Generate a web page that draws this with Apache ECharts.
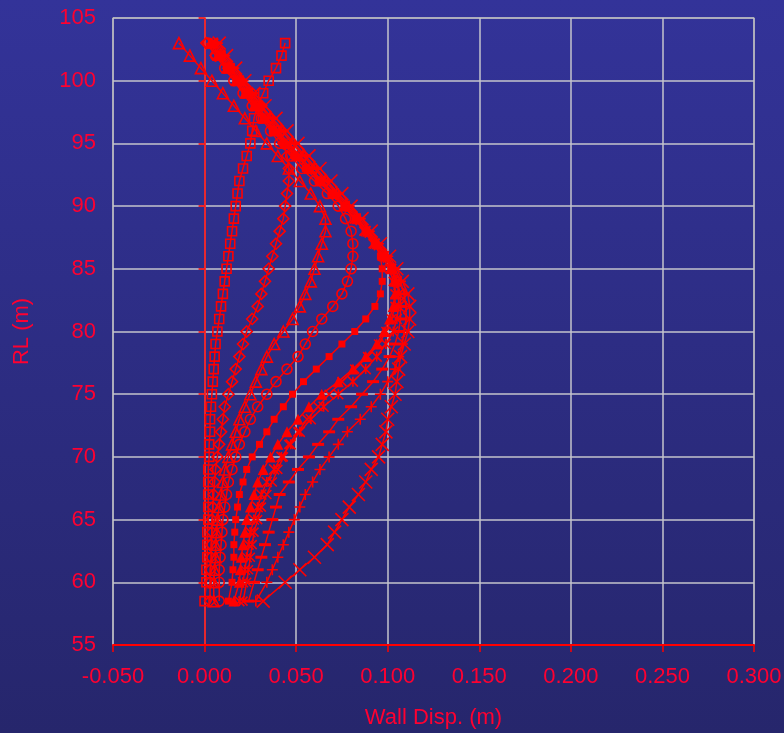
<!DOCTYPE html>
<html>
<head>
<meta charset="utf-8">
<script src="https://cdn.jsdelivr.net/npm/echarts@6/dist/echarts.min.js"></script>
<style>
  html, body { margin: 0; padding: 0; }
  #chart { width: 784px; height: 733px; }
</style>
</head>
<body>
<div id="chart"></div>
<script>
// reduced levels (m), shared by every stage
var rl = [103,102,101,100,99,98,97,96,95,94,93,92,91,90,89,88,87,86,85,84,83,82,81,80,79,78,77,76,75,74,73,72,71,70,69,68,67,66,65,64,63,62,61,60,58.5];

// wall displacement (m) per stage
var dispSquare = [0.044,0.042,0.039,0.035,0.032,0.029,0.027,0.026,0.025,0.023,0.021,0.019,0.018,0.017,0.016,0.015,0.014,0.013,0.012,0.011,0.010,0.009,0.008,0.007,0.006,0.0055,0.005,0.0045,0.004,0.0035,0.003,0.003,0.0025,0.0025,0.002,0.002,0.002,0.002,0.002,0.0015,0.0015,0.0015,0.001,0.001,0.0];
var dispDiamond = [0.001,0.006,0.013,0.020,0.026,0.031,0.036,0.040,0.043,0.045,0.046,0.046,0.045,0.044,0.043,0.041,0.039,0.037,0.035,0.033,0.031,0.029,0.026,0.023,0.021,0.019,0.017,0.015,0.013,0.011,0.010,0.009,0.008,0.007,0.006,0.0055,0.005,0.0045,0.004,0.004,0.0035,0.0035,0.003,0.003,0.003];
var dispTriangle = [-0.014,-0.008,-0.002,0.004,0.010,0.016,0.022,0.028,0.034,0.040,0.046,0.052,0.058,0.063,0.066,0.066,0.064,0.062,0.060,0.058,0.055,0.052,0.048,0.043,0.038,0.034,0.031,0.028,0.025,0.022,0.019,0.017,0.015,0.013,0.011,0.010,0.009,0.008,0.007,0.0065,0.006,0.006,0.0055,0.005,0.005];
var dispCircle = [0.002,0.006,0.011,0.016,0.021,0.026,0.031,0.036,0.041,0.047,0.053,0.060,0.067,0.073,0.077,0.080,0.081,0.081,0.080,0.078,0.075,0.070,0.064,0.059,0.055,0.051,0.045,0.039,0.034,0.029,0.025,0.022,0.019,0.017,0.015,0.013,0.012,0.011,0.010,0.0095,0.009,0.0085,0.008,0.008,0.008];
var dispFillSquare = [0.004,0.008,0.012,0.017,0.022,0.027,0.032,0.037,0.043,0.049,0.055,0.062,0.069,0.076,0.082,0.088,0.093,0.096,0.097,0.097,0.096,0.093,0.088,0.082,0.075,0.068,0.061,0.054,0.048,0.043,0.038,0.034,0.030,0.026,0.023,0.021,0.019,0.018,0.017,0.0165,0.016,0.016,0.0155,0.015,0.013];
var dispFillTriangle = [0.003,0.007,0.012,0.017,0.022,0.027,0.032,0.038,0.044,0.050,0.057,0.064,0.071,0.077,0.083,0.089,0.094,0.099,0.102,0.104,0.104,0.103,0.101,0.098,0.094,0.088,0.081,0.073,0.064,0.057,0.051,0.045,0.040,0.036,0.032,0.029,0.027,0.025,0.023,0.022,0.021,0.020,0.0195,0.019,0.016];
var dispStar = [0.004,0.008,0.013,0.018,0.023,0.028,0.033,0.039,0.045,0.051,0.057,0.063,0.070,0.076,0.082,0.088,0.093,0.098,0.102,0.105,0.106,0.106,0.105,0.103,0.099,0.094,0.088,0.081,0.073,0.065,0.058,0.052,0.047,0.042,0.038,0.034,0.031,0.029,0.027,0.025,0.024,0.023,0.022,0.021,0.019];
var dispCross = [0.005,0.009,0.014,0.019,0.024,0.029,0.034,0.040,0.046,0.052,0.058,0.064,0.070,0.076,0.082,0.087,0.092,0.097,0.101,0.103,0.104,0.104,0.102,0.099,0.095,0.089,0.082,0.075,0.068,0.062,0.056,0.051,0.046,0.043,0.040,0.037,0.034,0.031,0.029,0.027,0.026,0.025,0.024,0.023,0.021];
var dispDash = [0.006,0.010,0.015,0.020,0.025,0.030,0.036,0.042,0.048,0.054,0.060,0.066,0.072,0.078,0.084,0.089,0.094,0.099,0.103,0.105,0.107,0.107,0.107,0.106,0.104,0.101,0.097,0.092,0.086,0.080,0.073,0.068,0.062,0.057,0.051,0.046,0.041,0.039,0.037,0.035,0.033,0.031,0.029,0.027,0.024];
var dispPlus = [0.007,0.011,0.016,0.021,0.026,0.031,0.037,0.043,0.049,0.055,0.061,0.067,0.073,0.079,0.085,0.090,0.095,0.100,0.104,0.107,0.109,0.110,0.110,0.109,0.108,0.106,0.104,0.100,0.096,0.091,0.085,0.078,0.073,0.068,0.063,0.059,0.055,0.052,0.049,0.046,0.043,0.040,0.037,0.034,0.028];
var dispBigX = [0.008,0.012,0.017,0.022,0.027,0.033,0.039,0.045,0.051,0.057,0.063,0.069,0.075,0.080,0.086,0.091,0.096,0.101,0.105,0.108,0.111,0.112,0.112,0.111,0.109,0.107,0.106,0.105,0.104,0.102,0.100,0.099,0.097,0.095,0.091,0.088,0.084,0.079,0.075,0.071,0.067,0.060,0.052,0.044,0.032];

var xTicks = [-0.05, 0.3, 0.05];
var yTicks = [55, 105, 5];

var RED = '#ff0000';
var TXT = '#ff0030';
var FONT = '"Liberation Sans", Arial, sans-serif';

var pX = 'path://M0,0L10,10M10,0L0,10';
var pPlus = 'path://M5,0L5,10M0,5L10,5';
var pStar = 'path://M0,0L10,10M10,0L0,10M5,0L5,10';

var stages = [
  { d: dispSquare,       sym: 'rect',     size: 9,      hollow: true },
  { d: dispDiamond,      sym: 'diamond',  size: 11,     hollow: true },
  { d: dispTriangle,     sym: 'triangle', size: 11,     hollow: true },
  { d: dispCircle,       sym: 'circle',   size: 10,     hollow: true },
  { d: dispFillSquare,   sym: 'rect',     size: 7,      hollow: false },
  { d: dispFillTriangle, sym: 'triangle', size: 11,     hollow: false },
  { d: dispStar,         sym: pStar,      size: 10,     hollow: true },
  { d: dispCross,        sym: pX,         size: 9,      hollow: true },
  { d: dispDash,         sym: 'rect',     size: [12,3], hollow: false },
  { d: dispPlus,         sym: pPlus,      size: 11,     hollow: true },
  { d: dispBigX,         sym: pX,         size: 13,     hollow: true }
];

var series = stages.map(function (s) {
  return {
    type: 'line',
    data: s.d.map(function (v, i) { return [v, rl[i]]; }),
    symbol: s.sym,
    symbolSize: s.size,
    showSymbol: true,
    lineStyle: { color: RED, width: 1.5 },
    itemStyle: s.hollow
      ? { color: 'rgba(0,0,0,0)', borderColor: RED, borderWidth: 1.6 }
      : { color: RED, borderWidth: 0 },
    emphasis: { disabled: true },
    z: 3
  };
});

var myChart = echarts.init(document.getElementById('chart'));
myChart.setOption({
  animation: false,
  backgroundColor: {
    type: 'linear', x: 0, y: 0, x2: 0, y2: 1,
    colorStops: [{ offset: 0, color: '#333399' }, { offset: 1, color: '#26266c' }]
  },
  grid: {
    left: 113, right: 30, top: 18, bottom: 88,
    containLabel: false, outerBoundsMode: 'none',
    show: true, borderColor: '#7a7a8a', borderWidth: 1.5
  },
  xAxis: {
    type: 'value',
    min: xTicks[0], max: xTicks[1], interval: xTicks[2],
    name: 'Wall Disp. (m)', nameLocation: 'middle', nameGap: 62,
    nameTextStyle: { color: TXT, fontSize: 22, fontFamily: FONT },
    axisLine: { onZero: false, lineStyle: { color: RED, width: 2 } },
    axisTick: { show: true, length: 7, lineStyle: { color: RED, width: 1.5 } },
    axisLabel: {
      color: TXT, fontSize: 22, fontFamily: FONT, margin: 21,
      formatter: function (v) { return v.toFixed(3); }
    },
    splitLine: { show: true, lineStyle: { color: '#c4c4cc', width: 1.5 } }
  },
  yAxis: {
    type: 'value',
    min: yTicks[0], max: yTicks[1], interval: yTicks[2],
    name: 'RL (m)', nameLocation: 'middle', nameGap: 80,
    nameTextStyle: { color: TXT, fontSize: 22, fontFamily: FONT },
    axisLine: { show: true, onZero: true, lineStyle: { color: RED, width: 1.5 } },
    axisTick: { show: true, length: 6, lineStyle: { color: RED, width: 1.5 } },
    axisLabel: { color: TXT, fontSize: 22, fontFamily: FONT, margin: 17 },
    splitLine: { show: true, lineStyle: { color: '#c4c4cc', width: 1.5 } }
  },
  series: series
});
</script>
</body>
</html>
